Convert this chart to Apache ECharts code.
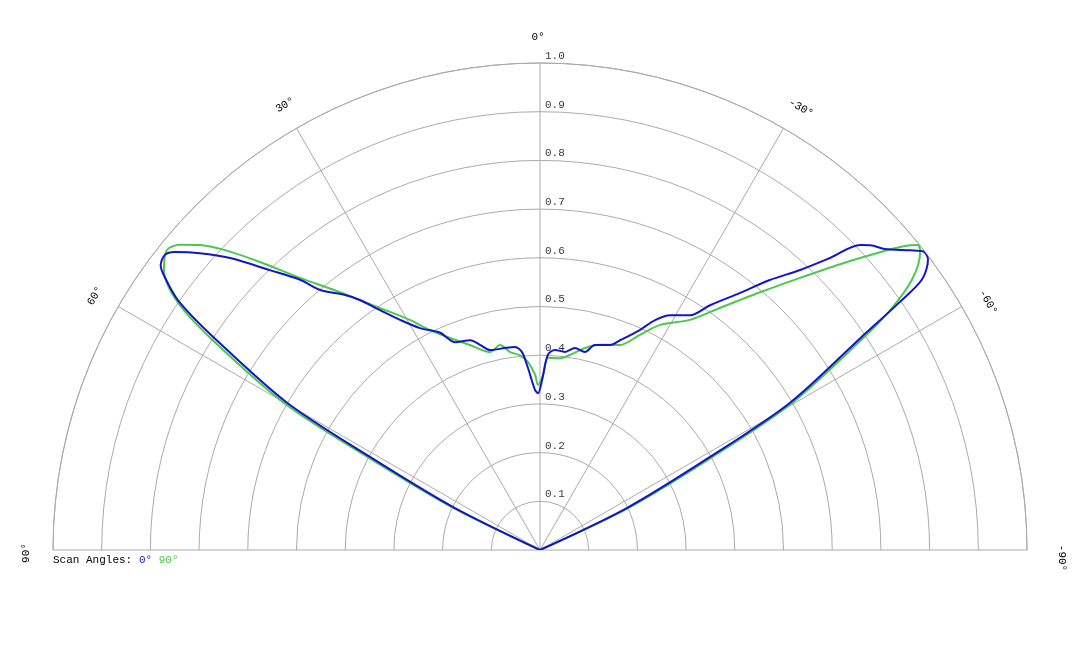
<!DOCTYPE html>
<html>
<head>
<meta charset="utf-8">
<script src="https://cdn.jsdelivr.net/npm/echarts@6/dist/echarts.min.js"></script>
<style>html,body{margin:0;background:#fff}#chart{width:1080px;height:648px}</style>
</head>
<body>
<div id="chart"></div>
<script>
// [radius, angle in degrees]
const scan0 = [[0,65],[0.199,63.7],[0.398,61.3],[0.601,59.8],[0.801,56.9],[0.903,55.4],[0.955,53.9],[0.974,53.1],[0.98,51.8],[0.968,50.8],[0.927,48.9],[0.874,46.7],[0.799,44.0],[0.742,41.6],[0.699,40.2],[0.659,37.4],[0.633,35.8],[0.592,33.7],[0.553,31.3],[0.518,28.4],[0.491,24.7],[0.461,22.2],[0.454,18.4],[0.439,16.3],[0.423,14.0],[0.421,9.8],[0.420,7.0],[0.408,5.2],[0.375,3.8],[0.329,1.8],[0.322,0.7],[0.349,-0.7],[0.401,-2.3],[0.412,-4.3],[0.410,-7.2],[0.421,-9.8],[0.417,-12.8],[0.436,-15.0],[0.445,-18.9],[0.461,-20.9],[0.496,-24.4],[0.528,-26.6],[0.551,-29.0],[0.572,-32.6],[0.612,-34.8],[0.669,-37.9],[0.728,-40.4],[0.785,-42.9],[0.845,-44.8],[0.908,-46.4],[0.923,-47.3],[0.940,-48.9],[0.978,-51.0],[0.998,-52.1],[0.995,-53.2],[0.961,-54.7],[0.900,-55.4],[0.790,-56.5],[0.596,-59.5],[0.398,-61.3],[0.198,-64.2],[0,-65]]
const scan90 = [[0,65],[0.199,64.1],[0.398,61.7],[0.601,60.2],[0.801,57.3],[0.903,55.6],[0.963,53.3],[0.983,51.2],[0.969,49.7],[0.938,48.1],[0.893,46.4],[0.825,44.2],[0.745,41.4],[0.670,37.8],[0.596,33.5],[0.543,29.5],[0.505,26.6],[0.473,23.0],[0.445,18.9],[0.419,14.2],[0.429,11.0],[0.411,8.6],[0.402,5.9],[0.387,3.7],[0.360,1.6],[0.339,0.7],[0.359,-1.0],[0.395,-2.4],[0.396,-5.9],[0.405,-8.7],[0.425,-12.6],[0.439,-16.3],[0.452,-21.3],[0.487,-24.9],[0.524,-28.1],[0.564,-33.1],[0.619,-36.6],[0.696,-40.5],[0.773,-43.7],[0.851,-46.4],[0.928,-48.8],[0.975,-50.2],[0.997,-51.1],[0.992,-51.9],[0.944,-54.0],[0.871,-55.6],[0.790,-56.8],[0.596,-59.8],[0.398,-61.7],[0.198,-64.6],[0,-65]]
const ringLabels = [0.1,0.2,0.3,0.4,0.5,0.6,0.7,0.8,0.9,1.0]
const angleLabels = [
  { text: '0°', x: 538, y: 37, rot: 0 },
  { text: '30°', x: 285, y: 105, rot: 30 },
  { text: '-30°', x: 801, y: 108, rot: -30 },
  { text: '60°', x: 95, y: 296, rot: 60 },
  { text: '-60°', x: 988, y: 302, rot: -60 },
  { text: '90°', x: 26, y: 553, rot: 90 },
  { text: '-90°', x: 1062, y: 558, rot: -90 }
]
const FONT = '"Liberation Mono", "DejaVu Sans Mono", monospace'
const BLUE = '#1414c8'
const GREEN = '#4cc94c'

const chart = echarts.init(document.getElementById('chart'))
chart.setOption({
  animation: false,
  polar: { center: [540, 550], radius: 487 },
  angleAxis: {
    type: 'value', min: -90, max: 90, interval: 30,
    startAngle: 0, endAngle: 180, clockwise: false,
    axisLine: { lineStyle: { color: '#aaa', width: 1 } },
    axisTick: { show: false }, axisLabel: { show: false },
    splitLine: { lineStyle: { color: '#aaa', width: 1 } }
  },
  radiusAxis: {
    type: 'value', min: 0, max: 1, interval: 0.1,
    axisLine: { show: false }, axisTick: { show: false }, axisLabel: { show: false },
    splitLine: { lineStyle: { color: '#aaa', width: 1 } }
  },
  series: [
    { type: 'line', coordinateSystem: 'polar', data: scan0, symbol: 'none', smooth: 0.3,
      lineStyle: { color: BLUE, width: 2 }, z: 3 },
    { type: 'line', coordinateSystem: 'polar', data: scan90, symbol: 'none', smooth: 0.3,
      lineStyle: { color: GREEN, width: 2 }, z: 2 },
    { type: 'scatter', coordinateSystem: 'polar', symbolSize: 0, silent: true,
      data: ringLabels.map(v => [v, 0]),
      label: { show: true, position: 'right', offset: [0, -7], color: '#000',
        fontFamily: FONT, fontSize: 11, formatter: p => p.value[0].toFixed(1) } }
  ],
  graphic: angleLabels.map(l => ({
    type: 'text', x: l.x, y: l.y, rotation: l.rot * Math.PI / 180,
    style: { text: l.text, fill: '#000', font: '11px ' + FONT, align: 'center', verticalAlign: 'middle' }
  })).concat([{
    type: 'text', x: 53, y: 560,
    style: {
      text: '{k|Scan Angles:}  {b|0°}  {g|90°}', verticalAlign: 'middle',
      rich: {
        k: { fill: '#000', font: '11px ' + FONT },
        b: { fill: BLUE, font: '11px ' + FONT },
        g: { fill: GREEN, font: '11px ' + FONT }
      }
    }
  }])
})
</script>
</body>
</html>
